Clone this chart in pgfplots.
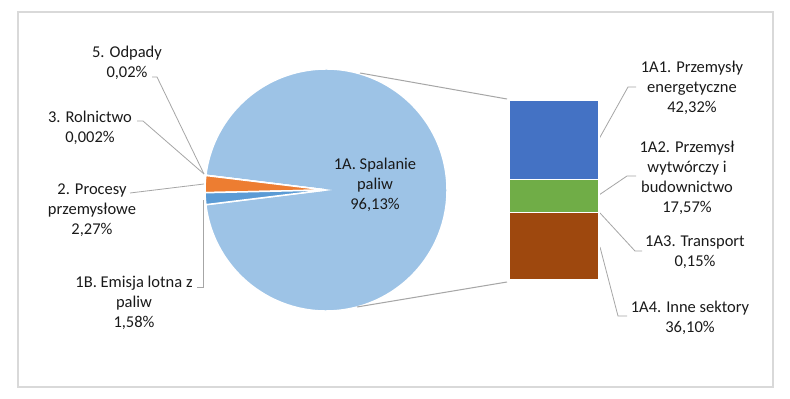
\documentclass[border=0pt]{standalone}
\usepackage{pgfplots}
\pgfplotsset{compat=1.18}
\usepackage{fontspec}
\setmainfont{Carlito}
\definecolor{cA}{HTML}{9DC3E6}
\definecolor{cP}{HTML}{ED7D31}
\definecolor{cB}{HTML}{5B9BD5}
\definecolor{cR}{HTML}{A5A5A5}
\definecolor{cO}{HTML}{FFC000}
\definecolor{bA}{HTML}{4472C4}
\definecolor{bG}{HTML}{70AD47}
\definecolor{bT}{HTML}{A5A5A5}
\definecolor{bS}{HTML}{9E480E}
\definecolor{txt}{HTML}{1A1A1A}
\definecolor{lead}{HTML}{A6A6A6}
\definecolor{frame}{HTML}{D9D9D9}
% pie data (percent)
\def\vA{96.13}\def\vR{0.002}\def\vO{0.02}\def\vP{2.27}\def\vB{1.58}
\tikzset{lbl/.style={font=\fontsize{16.5bp}{20bp}\selectfont, text=txt, align=center, inner sep=0pt}}
\begin{document}
\begin{tikzpicture}
\useasboundingbox (0,0) rectangle (790bp,399bp);
\fill[white] (0,0) rectangle (790bp,399bp);
\pgfmathsetmacro{\aZ}{3.6*\vA/2}
\pgfmathsetmacro{\aRa}{\aZ+3.6*\vR}
\pgfmathsetmacro{\aOa}{\aRa+3.6*\vO}
\pgfmathsetmacro{\aPa}{\aOa+3.6*\vP}
\pgfmathsetmacro{\aBa}{\aPa+3.6*\vB}
\begin{axis}[x=1bp, y=1bp, xmin=0, xmax=790, ymin=0, ymax=399,
  hide axis, clip=false]
\draw[frame, line width=1.2bp] (axis cs:18,387) rectangle (axis cs:773,12);
% pie sectors
\filldraw[fill=cA, draw=white, line width=1.5bp] (axis cs:326,209) -- ++(-\aZ:121bp) arc[start angle=-\aZ, end angle=\aZ, radius=121bp] -- cycle;
\filldraw[fill=cR, draw=white, line width=1.5bp] (axis cs:326,209) -- ++(\aZ:121bp) arc[start angle=\aZ, end angle=\aRa, radius=121bp] -- cycle;
\filldraw[fill=cO, draw=white, line width=1.5bp] (axis cs:326,209) -- ++(\aRa:121bp) arc[start angle=\aRa, end angle=\aOa, radius=121bp] -- cycle;
\filldraw[fill=cP, draw=white, line width=1.5bp] (axis cs:326,209) -- ++(\aOa:121bp) arc[start angle=\aOa, end angle=\aPa, radius=121bp] -- cycle;
\filldraw[fill=cB, draw=white, line width=1.5bp] (axis cs:326,209) -- ++(\aPa:121bp) arc[start angle=\aPa, end angle=\aBa, radius=121bp] -- cycle;
% connector lines pie -> bar
\draw[lead, line width=1bp] (axis cs:360,326) -- (axis cs:507,300);
\draw[lead, line width=1bp] (axis cs:357,92) -- (axis cs:507,117);
% leader lines
\draw[lead, line width=0.8bp] (axis cs:599,260) -- (axis cs:628,312) -- (axis cs:636,312);
\draw[lead, line width=0.8bp] (axis cs:599,204) -- (axis cs:627,223) -- (axis cs:636,223);
\draw[lead, line width=0.8bp] (axis cs:600,186) -- (axis cs:635,148) -- (axis cs:642,148);
\draw[lead, line width=0.8bp] (axis cs:600,152) -- (axis cs:618,83) -- (axis cs:627,83);
\draw[lead, line width=0.8bp] (axis cs:152,322) -- (axis cs:157,322) -- (axis cs:204,225);
\draw[lead, line width=0.8bp] (axis cs:137,278) -- (axis cs:143,278) -- (axis cs:204,225);
\draw[lead, line width=0.8bp] (axis cs:130,206) -- (axis cs:204,215);
\draw[lead, line width=0.8bp] (axis cs:197,112) -- (axis cs:203,112) -- (axis cs:203,199);
% labels
\node[lbl] at (axis cs:375,214) {1A. Spalanie\\paliw\\96,13\%};
\node[lbl] at (axis cs:127,336) {5. Odpady\\0,02\%};
\node[lbl] at (axis cs:90,271) {3. Rolnictwo\\0,002\%};
\node[lbl] at (axis cs:92,189) {2. Procesy\\przemysłowe\\2,27\%};
\node[lbl] at (axis cs:134,96) {1B. Emisja lotna z\\paliw\\1,58\%};
\node[lbl] at (axis cs:692,311) {1A1. Przemysły\\energetyczne\\42,32\%};
\node[lbl] at (axis cs:687,221.5) {1A2. Przemysł\\wytwórczy i\\budownictwo\\17,57\%};
\node[lbl] at (axis cs:695,147) {1A3. Transport\\0,15\%};
\node[lbl] at (axis cs:690,81.5) {1A4. Inne sektory\\36,10\%};
\end{axis}
\begin{axis}[at={(509bp,119bp)}, anchor=south west, width=90bp, height=180bp,
  scale only axis, xmin=-0.5, xmax=0.5, ymin=0, ymax=96.14, hide axis, clip=false,
  ybar stacked, bar width=90bp]
\addplot[fill=bS, draw=white, line width=1.2bp] coordinates {(0,36.10)};
\addplot[fill=bT, draw=white, line width=1.2bp] coordinates {(0,0.15)};
\addplot[fill=bG, draw=white, line width=1.2bp] coordinates {(0,17.57)};
\addplot[fill=bA, draw=white, line width=1.2bp] coordinates {(0,42.32)};
\end{axis}
\end{tikzpicture}
\end{document}
